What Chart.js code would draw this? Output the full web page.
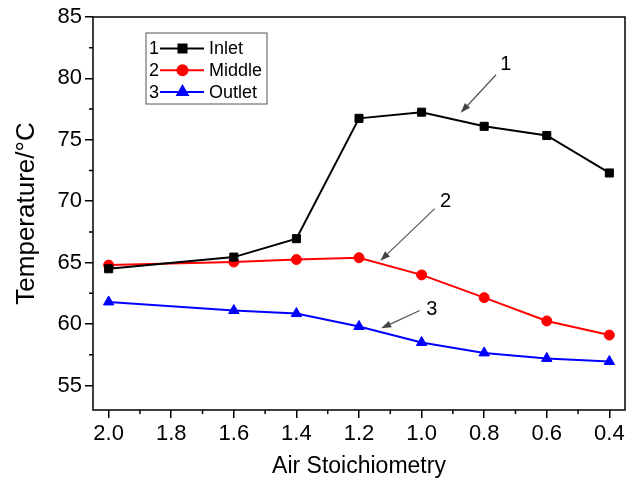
<!DOCTYPE html>
<html>
<head>
<meta charset="utf-8">
<script src="https://cdn.jsdelivr.net/npm/chart.js@4"></script>
<style>
  html, body { margin: 0; padding: 0; background: #fff; }
  #wrap { width: 638px; height: 481px; }
</style>
</head>
<body>
<div id="wrap"><canvas id="tempChart" width="638" height="481"></canvas></div>
<script>
// data
const airStoich = [2.0, 1.6, 1.4, 1.2, 1.0, 0.8, 0.6, 0.4];
const inletTemp = [64.5, 65.45, 66.95, 76.75, 77.25, 76.1, 75.35, 72.3];
const middleTemp = [64.8, 65.05, 65.25, 65.4, 64.0, 62.15, 60.25, 59.1];
const outletTemp = [61.8, 61.1, 60.85, 59.8, 58.5, 57.65, 57.2, 56.95];
const xTicks = [2.0, 1.8, 1.6, 1.4, 1.2, 1.0, 0.8, 0.6, 0.4];
const yTicks = [55, 60, 65, 70, 75, 80, 85];
const xMinor = [1.9, 1.7, 1.5, 1.3, 1.1, 0.9, 0.7, 0.5];
const yMinor = [57.5, 62.5, 67.5, 72.5, 77.5, 82.5];
// arrow annotations: [label, labelX, labelY, fromX, fromY, toX, toY] in data units
const arrowNotes = [
    ['1', 0.731, 81.1, 0.762, 80.3, 0.875, 77.2],
    ['2', 0.923, 69.95, 0.958, 69.4, 1.132, 65.15],
    ['3', 0.967, 61.2, 1.006, 61.1, 1.129, 59.65]
];

const FONT = 'Liberation Sans, Arial, sans-serif';

function toPoints(ys) {
    return airStoich.map((x, i) => ({ x: x, y: ys[i] }));
}

const seriesStyle = [
    { label: 'Inlet', num: '1', color: '#000000', pointStyle: 'rect', radius: 5.7, data: inletTemp },
    { label: 'Middle', num: '2', color: '#ff0000', pointStyle: 'circle', radius: 5, data: middleTemp },
    { label: 'Outlet', num: '3', color: '#0000ff', pointStyle: 'triangle', radius: 6, data: outletTemp }
];

// frame, minor ticks, legend box and arrows
const extrasPlugin = {
    id: 'extras',
    afterDraw(chart) {
        const ctx = chart.ctx;
        const a = chart.chartArea;
        const xs = chart.scales.x, ys = chart.scales.y;
        ctx.save();

        // frame
        ctx.strokeStyle = '#000';
        ctx.lineWidth = 1.5;
        ctx.strokeRect(a.left, a.top, a.right - a.left, a.bottom - a.top);

        // minor ticks
        ctx.beginPath();
        xMinor.forEach(v => {
            const px = xs.getPixelForValue(v);
            ctx.moveTo(px, a.bottom);
            ctx.lineTo(px, a.bottom + 4);
        });
        yMinor.forEach(v => {
            const py = ys.getPixelForValue(v);
            ctx.moveTo(a.left, py);
            ctx.lineTo(a.left - 4, py);
        });
        ctx.stroke();

        // legend
        const lx = a.left + 53, ly = a.top + 16;
        ctx.lineWidth = 1;
        ctx.strokeStyle = '#555';
        ctx.strokeRect(lx, ly, 121, 71);
        ctx.font = '18px ' + FONT;
        ctx.textBaseline = 'middle';
        seriesStyle.forEach((s, i) => {
            const cy = ly + 15.5 + i * 21.7;
            ctx.fillStyle = '#000';
            ctx.textAlign = 'left';
            ctx.fillText(s.num, lx + 3, cy + 1);
            ctx.strokeStyle = s.color;
            ctx.lineWidth = 2;
            ctx.beginPath();
            ctx.moveTo(lx + 14, cy);
            ctx.lineTo(lx + 58, cy);
            ctx.stroke();
            ctx.fillStyle = s.color;
            Chart.helpers.drawPoint(ctx, {
                pointStyle: s.pointStyle, radius: s.radius, borderWidth: 1, rotation: 0
            }, lx + 36.5, cy);
            ctx.fillStyle = '#000';
            ctx.fillText(s.label, lx + 63, cy + 1);
        });

        // arrows
        ctx.font = '20px ' + FONT;
        ctx.textAlign = 'center';
        arrowNotes.forEach(n => {
            const tx = xs.getPixelForValue(n[1]), ty = ys.getPixelForValue(n[2]);
            const x0 = xs.getPixelForValue(n[3]), y0 = ys.getPixelForValue(n[4]);
            const x1 = xs.getPixelForValue(n[5]), y1 = ys.getPixelForValue(n[6]);
            ctx.fillStyle = '#000';
            ctx.fillText(n[0], tx, ty);
            ctx.strokeStyle = '#555';
            ctx.fillStyle = '#444';
            ctx.lineWidth = 1.2;
            const ang = Math.atan2(y1 - y0, x1 - x0);
            const hl = 10, hw = 3.5;
            const bx = x1 - hl * Math.cos(ang), by = y1 - hl * Math.sin(ang);
            ctx.beginPath();
            ctx.moveTo(x0, y0);
            ctx.lineTo(bx, by);
            ctx.stroke();
            ctx.beginPath();
            ctx.moveTo(x1, y1);
            ctx.lineTo(bx + hw * Math.sin(ang), by - hw * Math.cos(ang));
            ctx.lineTo(bx - hw * Math.sin(ang), by + hw * Math.cos(ang));
            ctx.closePath();
            ctx.fill();
        });
        ctx.restore();
    }
};

const ctx = document.getElementById('tempChart').getContext('2d');
new Chart(ctx, {
    type: 'line',
    data: {
        datasets: seriesStyle.map(s => ({
            label: s.label,
            data: toPoints(s.data),
            borderColor: s.color,
            backgroundColor: s.color,
            borderWidth: 2,
            pointStyle: s.pointStyle,
            pointRadius: s.radius,
            pointBorderWidth: 1,
            tension: 0
        }))
    },
    options: {
        responsive: false,
        animation: false,
        layout: { autoPadding: false, padding: { left: 0, top: 17, right: 13, bottom: 0 } },
        plugins: {
            legend: { display: false },
            tooltip: { enabled: false }
        },
        scales: {
            x: {
                type: 'linear',
                reverse: true,
                min: 0.35,
                max: 2.05,
                afterBuildTicks: s => { s.ticks = xTicks.map(v => ({ value: v })); },
                afterFit: s => { s.height = 71; },
                ticks: {
                    color: '#000',
                    font: { size: 22, family: FONT },
                    padding: 3,
                    maxRotation: 0,
                    callback: v => v.toFixed(1)
                },
                grid: { drawOnChartArea: false, color: '#000', lineWidth: 1.5, tickLength: 8 },
                border: { display: false },
                title: {
                    display: true,
                    text: 'Air Stoichiometry',
                    color: '#000',
                    font: { size: 23, family: FONT },
                    padding: { top: 0, bottom: 1 }
                }
            },
            y: {
                min: 53,
                max: 85,
                afterBuildTicks: s => { s.ticks = yTicks.map(v => ({ value: v })); },
                afterFit: s => { s.width = 93; },
                ticks: {
                    color: '#000',
                    font: { size: 22, family: FONT },
                    padding: 3
                },
                grid: { drawOnChartArea: false, color: '#000', lineWidth: 1.5, tickLength: 8 },
                border: { display: false },
                title: {
                    display: true,
                    text: 'Temperature/°C',
                    color: '#000',
                    font: { size: 26, family: FONT },
                    padding: { top: 11, bottom: 0 }
                }
            }
        }
    },
    plugins: [extrasPlugin]
});
</script>
</body>
</html>
